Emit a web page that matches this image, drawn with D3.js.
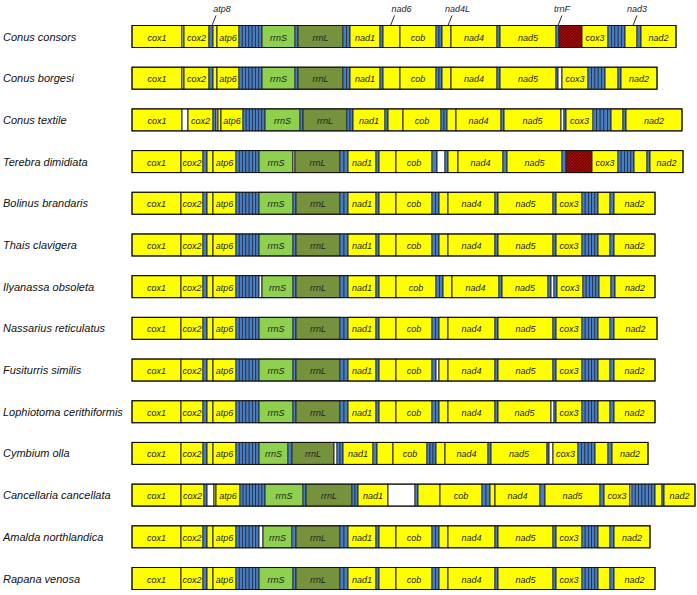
<!DOCTYPE html>
<html><head><meta charset="utf-8">
<script src="https://cdn.jsdelivr.net/npm/d3@7/dist/d3.min.js"></script>
<style>body{margin:0;background:#fff}</style>
</head><body><svg id="c" width="697" height="595"></svg>
<script>
// Species (row order, top to bottom)
const species = ["Conus consors","Conus borgesi","Conus textile","Terebra dimidiata","Bolinus brandaris","Thais clavigera","Ilyanassa obsoleta","Nassarius reticulatus","Fusiturris similis","Lophiotoma cerithiformis","Cymbium olla","Cancellaria cancellata","Amalda northlandica","Rapana venosa"];
// Gene-order maps: [feature, relative length]; tN = cluster of N tRNAs, nc = non-coding, CR = control region
const conusConsors = [["cox1",50],["nc",2],["cox2",25],["t1",4],["atp8",4],["atp6",22],["t7",23],["rrnS",33],["t1",3],["rrnL",45],["t2",7],["nad1",30],["t1",3],["nad6",17],["cob",36],["t2",6],["nad4L",9],["nad4",46],["t1",3],["nad5",56],["t1",3],["CR",23],["cox3",26],["t5",17],["nad3",12],["t1",4],["nad2",35]];
const conusBorgesi = [["cox1",50],["nc",2],["cox2",25],["t1",4],["atp8",4],["atp6",22],["t7",23],["rrnS",33],["t1",3],["rrnL",45],["t2",7],["nad1",30],["t1",3],["nad6",17],["cob",36],["t2",6],["nad4L",9],["nad4",46],["t1",3],["nad5",56],["t1",2],["nc",4],["cox3",26],["t5",17],["nad3",13],["t1",3],["nad2",36]];
const conusTextile = [["cox1",50],["nc",6],["cox2",25],["t1",3],["nc",2],["atp8",3],["atp6",22],["t7",22],["rrnS",35],["t1",3],["rrnL",44],["t2",6],["nad1",32],["t1",3],["nad6",15],["cob",38],["t2",6],["nad4L",9],["nad4",45],["t1",3],["nad5",57],["nc",3],["t1",2],["cox3",27],["t5",18],["nad3",12],["t1",3],["nad2",56]];
const terebraDimidiata = [["cox1",49],["cox2",22],["t1",4],["atp8",6],["atp6",23],["t7",23],["rrnS",34],["nc",2],["rrnL",45],["t2",8],["nad1",28],["t1",3],["nad6",17],["cob",36],["t1",5],["nc",8],["t1",3],["nad4L",10],["nad4",45],["t1",4],["nad5",55],["t1",4],["CR",26],["cox3",26],["t5",16],["nad3",13],["t1",3],["nad2",33]];
const bolinusBrandaris = [["cox1",49],["cox2",22],["t1",4],["atp8",6],["atp6",23],["t7",23],["rrnS",34],["t1",3],["rrnL",44],["t2",8],["nad1",28],["t1",3],["nad6",17],["cob",36],["t2",7],["nad4L",9],["nad4",47],["t1",3],["nad5",55],["t1",3],["cox3",26],["t5",16],["nad3",12],["t1",4],["nad2",41]];
const thaisClavigera = [["cox1",49],["cox2",22],["t1",4],["atp8",6],["atp6",23],["t7",23],["rrnS",34],["t1",3],["rrnL",44],["t2",8],["nad1",28],["t1",3],["nad6",17],["cob",36],["t2",7],["nad4L",9],["nad4",47],["t1",3],["nad5",55],["t1",3],["cox3",26],["t5",16],["nad3",12],["t1",4],["nad2",41]];
const ilyanassaObsoleta = [["cox1",49],["cox2",22],["t1",4],["atp8",6],["atp6",23],["t7",23],["nc",3],["rrnS",31],["t1",3],["rrnL",44],["t2",8],["nad1",28],["t1",3],["nad6",17],["cob",40],["t2",7],["nad4L",9],["nad4",47],["t1",3],["nad5",46],["t1",3],["nc",3],["t1",3],["cox3",26],["t5",16],["nad3",12],["t1",4],["nad2",40]];
const nassariusReticulatus = [["cox1",49],["cox2",22],["t1",4],["atp8",6],["atp6",23],["t7",23],["rrnS",34],["t1",3],["rrnL",44],["t2",8],["nad1",28],["t1",3],["nad6",17],["cob",36],["t2",7],["nad4L",9],["nad4",47],["t1",3],["nad5",55],["t1",3],["cox3",26],["t5",16],["nad3",12],["t1",4],["nad2",43]];
const fusiturrisSimilis = [["cox1",49],["cox2",22],["t1",4],["atp8",6],["atp6",23],["t7",23],["rrnS",34],["t1",3],["rrnL",44],["t2",8],["nad1",28],["t1",3],["nad6",17],["cob",36],["t1",4],["nc",3],["nad4L",9],["nad4",47],["t1",3],["nad5",55],["t1",3],["cox3",26],["t5",16],["nad3",12],["t1",4],["nad2",41]];
const lophiotomaCerithiformis = [["cox1",49],["cox2",22],["t1",4],["atp8",6],["atp6",23],["t7",23],["rrnS",34],["t1",3],["rrnL",44],["t2",8],["nad1",28],["t1",3],["nad6",17],["cob",36],["t2",7],["nad4L",9],["nad4",47],["t1",3],["nad5",53],["nc",3],["t1",2],["cox3",26],["t5",16],["nad3",12],["t1",4],["nad2",41]];
const cymbiumOlla = [["cox1",49],["cox2",22],["t1",4],["atp8",6],["atp6",23],["t7",23],["rrnS",29],["t1",4],["rrnL",42],["nc",3],["t2",6],["nad1",30],["t1",4],["nad6",16],["cob",34],["t3",9],["nad4L",9],["nad4",43],["t1",3],["nad5",56],["t1",2],["nc",4],["cox3",25],["t5",17],["nad3",13],["t1",4],["nad2",36]];
const cancellariaCancellata = [["cox1",49],["cox2",23],["t1",3],["nc",7],["atp8",2],["atp6",24],["t8",25],["rrnS",38],["t1",3],["rrnL",46],["t2",6],["nad1",30],["nc",27],["t1",3],["nad6",22],["cob",42],["t2",8],["nad4L",5],["nad4",45],["t1",5],["nad5",55],["t1",4],["cox3",26],["nc",2],["t7",23],["nad3",7],["t1",2],["nad2",31]];
const amaldaNorthlandica = [["cox1",49],["cox2",22],["t1",4],["atp8",6],["atp6",23],["t7",23],["nc",4],["rrnS",29],["t1",4],["rrnL",44],["t2",8],["nad1",28],["t1",3],["nad6",17],["cob",36],["t2",7],["nad4L",9],["nad4",47],["t1",3],["nad5",55],["t1",3],["cox3",26],["t5",16],["nad3",12],["t1",4],["nad2",36]];
const rapanaVenosa = [["cox1",49],["cox2",22],["t1",4],["atp8",6],["atp6",23],["t7",23],["rrnS",34],["t1",3],["rrnL",44],["t2",8],["nad1",28],["t1",3],["nad6",17],["cob",36],["t2",7],["nad4L",9],["nad4",47],["t1",3],["nad5",55],["t1",3],["cox3",26],["t5",16],["nad3",12],["t1",4],["nad2",41]];
const genomes = [conusConsors,conusBorgesi,conusTextile,terebraDimidiata,bolinusBrandaris,thaisClavigera,ilyanassaObsoleta,nassariusReticulatus,fusiturrisSimilis,lophiotomaCerithiformis,cymbiumOlla,cancellariaCancellata,amaldaNorthlandica,rapanaVenosa];
// Genes annotated above the first map
const topLabels = ["atp8","nad6","nad4L","trnF","nad3"];
const innerLabels = ["cox1","cox2","atp6","rrnS","rrnL","nad1","cob","nad4","nad5","cox3","nad2"];

const svg = d3.select("#c");
const defs = svg.append("defs");
const pat = defs.append("pattern").attr("id","hatch").attr("patternUnits","userSpaceOnUse").attr("width",3).attr("height",3);
pat.append("rect").attr("width",3).attr("height",3).attr("fill","#9c0b0b");
pat.append("path").attr("d","M0,3 L3,0 M-1,1 L1,-1 M2,4 L4,2").attr("stroke","#5a0000").attr("stroke-width",0.8);

const x = d3.scaleLinear().domain([0,562]).range([132,694]);
const y = d3.scalePoint().domain(species).range([36.5,578.5]);
const H = 22;
const colors = {rrnS:"#8fd14f", rrnL:"#76923c", nc:"#ffffff", tRNA:"#4a7dbd"};
const FONT = "Liberation Sans, Arial, sans-serif";
const labelShift = {atp8:[-3,7], nad6:[-1,10], nad4L:[1.5,11], trnF:[0.5,4.5], nad3:[2,6]};

species.forEach((sp,i)=>{
  const g = svg.append("g");
  const yc = y(sp);
  g.append("text").attr("x",3).attr("y",yc+4).attr("font-family",FONT)
    .attr("font-style","italic").attr("font-size",11).attr("fill","#111").text(sp);
  let pos = 0;
  const segs = genomes[i].map(([f,len])=>{const s={f,len,start:pos}; pos+=len; return s;});
  segs.forEach(s=>{
    const x0 = x(s.start), x1 = x(s.start+s.len);
    if (/^t\d+$/.test(s.f)) {
      const n = +s.f.slice(1), w=(x1-x0)/n;
      for (let k=0;k<n;k++) g.append("rect").attr("x",x0+k*w).attr("y",yc-H/2).attr("width",w).attr("height",H)
        .attr("fill",colors.tRNA).attr("stroke","#1b2f4d").attr("stroke-width",0.8);
    } else {
      const fill = s.f==="CR" ? "url(#hatch)" : (colors[s.f] || "#ffff00");
      g.append("rect").attr("x",x0).attr("y",yc-H/2).attr("width",x1-x0).attr("height",H)
        .attr("fill",fill).attr("stroke","#222").attr("stroke-width",1);
      if (innerLabels.includes(s.f)) g.append("text").attr("x",(x0+x1)/2).attr("y",yc+4).attr("text-anchor","middle")
        .attr("font-family",FONT).attr("font-style","italic").attr("font-size",9).attr("fill","#222").text(s.f);
    }
  });
  g.append("rect").attr("x",x(0)).attr("y",yc-H/2).attr("width",x(pos)-x(0)).attr("height",H)
    .attr("fill","none").attr("stroke","#111").attr("stroke-width",1);
  if (i===0) {
    const find = (name)=>{ if(name==="trnF"){const idx=segs.findIndex(s=>s.f==="CR"); return segs[idx-1];} return segs.find(s=>s.f===name); };
    topLabels.forEach(name=>{
      const s = find(name); const [dl,dt] = labelShift[name];
      const xm = x(s.start+s.len/2);
      g.append("line").attr("x1",xm+dl).attr("y1",yc-H/2).attr("x2",xm+dl+4).attr("y2",yc-H/2-10).attr("stroke","#111").attr("stroke-width",0.9);
      g.append("text").attr("x",xm+dt).attr("y",yc-H/2-14).attr("text-anchor","middle")
        .attr("font-family",FONT).attr("font-style","italic").attr("font-size",9).attr("fill","#222").text(name);
    });
  }
});
</script></body></html>
